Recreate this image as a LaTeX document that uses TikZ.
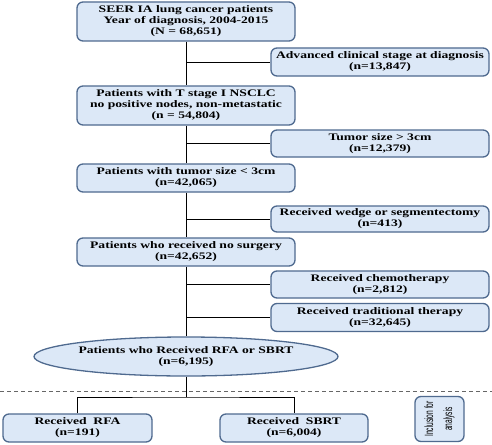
\documentclass[tikz,border=0pt]{standalone}
\usepackage{fontspec}
\setmainfont{Liberation Serif}[FakeStretch=1.36]
\newfontfamily\narrowfont{Liberation Sans}[FakeStretch=0.55]
\usetikzlibrary{shapes.geometric}
\definecolor{boxfill}{HTML}{DCE8F7}
\definecolor{boxline}{HTML}{4F6A8F}
\tikzset{
  box/.style={draw=boxline, fill=boxfill, line width=1.3pt, rounded corners=6pt,
    align=center, inner sep=1pt, font=\fontsize{10}{11}\selectfont\bfseries},
  mainbox/.style={box, minimum width=218pt},
  sidebox/.style={box, minimum width=218pt},
  conn/.style={draw=black, line width=0.9pt},
}
\begin{document}
\begin{tikzpicture}[x=1pt,y=-1pt]
\useasboundingbox (0,0) rectangle (492,444);
\node[mainbox, minimum height=39pt] (b1) at (186,21.5) {SEER IA lung cancer patients\\Year of diagnosis, 2004-2015\\(N = 68,651)};
\node[sidebox, minimum height=28pt] (adv) at (380,62) {Advanced clinical stage at diagnosis\\(n=13,847)};
\node[mainbox, minimum height=39pt] (b2) at (186,105.5) {Patients with T stage I NSCLC\\no positive nodes, non-metastatic\\(n = 54,804)};
\node[sidebox, minimum height=27pt] (tum) at (380,143.5) {Tumor size > 3cm\\(n=12,379)};
\node[mainbox, minimum height=28pt] (b3) at (186,178) {Patients with tumor size < 3cm\\(n=42,065)};
\node[sidebox, minimum height=26pt] (wed) at (380,219) {Received wedge or segmentectomy\\(n=413)};
\node[mainbox, minimum height=28pt] (b4) at (186,252) {Patients who received no surgery\\(n=42,652)};
\node[sidebox, minimum height=27pt] (che) at (380,284.5) {Received chemotherapy\\(n=2,812)};
\node[sidebox, minimum height=28pt] (tra) at (380,317.5) {Received traditional therapy\\(n=32,645)};
\node[box, ellipse, rounded corners=0pt, minimum width=240pt, minimum height=39pt, inner sep=0pt] (ell) at (186,356.5) {Patients who Received RFA or SBRT\\(n=6,195)};
\node[box, minimum width=149pt, minimum height=28pt] (rfa) at (77.5,428) {Received\ \ RFA\\(n=191)};
\node[box, minimum width=148pt, minimum height=28pt] (sbrt) at (294,428) {Received\ \ SBRT\\(n=6,004)};
\node[box, rotate=90, minimum width=45pt, minimum height=49pt, font=\narrowfont\fontsize{12}{19}\selectfont] (inc) at (439.5,419) {Inclusion for\\analysis};
% connectors
\draw[conn] (b1) -- (b2) -- (b3) -- (b4) -- (ell);
\draw[conn] (b1.south |- adv.west) -- (adv.west);
\draw[conn] (b1.south |- tum.west) -- (tum.west);
\draw[conn] (b1.south |- wed.west) -- (wed.west);
\draw[conn] (b1.south |- che.west) -- (che.west);
\draw[conn] (b1.south |- tra.west) -- (tra.west);
\coordinate (split) at (186,397);
\draw[conn] (ell.south) -- (split);
\draw[conn] (rfa.north) |- (split) -| (sbrt.north);
\coordinate (dl) at (0,391);
\coordinate (dr) at (492,391);
\draw[gray!80!black, line width=1pt, dash pattern=on 4pt off 3pt] (dl) -- (dr);
\end{tikzpicture}
\end{document}
